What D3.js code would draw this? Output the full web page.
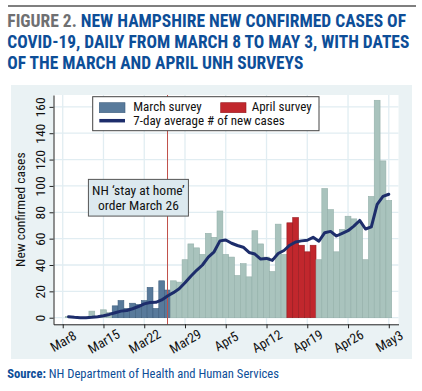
<!DOCTYPE html>
<html>
<head>
<meta charset="utf-8">
<script src="https://cdn.jsdelivr.net/npm/d3@7"></script>
<style>
  body { margin: 0; background: #fff; }
  svg { display: block; font-family: "Liberation Sans Narrow", "Arial Narrow", "Roboto Condensed", "DejaVu Sans Condensed", sans-serif; }
</style>
</head>
<body>
<div id="chart"></div>
<script>
// data
const firstDay = "2020-03-08";
const lastDay = "2020-05-03";

// new confirmed cases per day, Mar 8 .. May 3
const newCases = [
  0, 1, 0, 0, 0, 5, 0, 6, 4,              // Mar 8-16
  9, 13, 7, 11, 10, 13, 23, 7, 28, 21,     // Mar 17-26
  28, 27, 44, 56, 53,                      // Mar 27-31
  48, 64, 61, 81, 48, 46, 32, 41, 31, 66,  // Apr 1-10
  56, 46, 35, 71, 48, 72, 76, 55, 50, 55,  // Apr 11-20
  44, 98, 82, 50, 67, 77, 75, 72, 44, 92,  // Apr 21-30
  165, 119, 89                             // May 1-3
];

// 7-day average # of new cases (null where the line is not drawn)
const avg7 = [
  null, 0.8, 0.3, 0, 0, 0.3, 0.8, 1.5, 2.5,
  3.8, 5.0, 5.5, 6.8, 8.5, 10.5, 11.5, 11.7, 13.5, 16.5,
  19, 22, 26.5, 31.5, 36,
  40, 46, 50, 58.3, 59, 56.5, 54.8, 53.5, 49.5, 48.3,
  44.5, 45, 43.5, 48.7, 51, 55, 57.5, 58.3, 58.8, 61,
  58, 64.5, 65.5, 62, 64, 66, 69.5, 73.8, 67.3, 69,
  86, 92, 93.7
];

const marchSurvey = ["2020-03-17", "2020-03-26"];
const aprilSurvey = ["2020-04-16", "2020-04-20"];
const stayHomeDay = "2020-03-26";

const yTicks = [0, 20, 40, 60, 80, 100, 120, 140, 160];
const xTickDays = ["2020-03-08", "2020-03-15", "2020-03-22", "2020-03-29",
                   "2020-04-05", "2020-04-12", "2020-04-19", "2020-04-26", "2020-05-03"];

const titleLines = [
  "NEW HAMPSHIRE NEW CONFIRMED CASES OF",
  "COVID-19, DAILY FROM MARCH 8 TO MAY 3, WITH DATES",
  "OF THE MARCH AND APRIL UNH SURVEYS"
];

const parse = d3.timeParse("%Y-%m-%d");
const days = d3.timeDay.range(parse(firstDay), d3.timeDay.offset(parse(lastDay), 1));
const rows = days.map((d, i) => ({ date: d, cases: newCases[i], avg: avg7[i] }));

function group(d) {
  if (d >= parse(marchSurvey[0]) && d <= parse(marchSurvey[1])) return "march";
  if (d >= parse(aprilSurvey[0]) && d <= parse(aprilSurvey[1])) return "april";
  return "other";
}
const fills = { other: "#a9c3bd", march: "#587a9b", april: "#c1272d" };
const strokes = { other: "#94b0aa", march: "#3f5f7f", april: "#97191e" };

const W = 422, H = 391;
const plot = { left: 53.5, right: 398.5, top: 95, bottom: 324.3 };

const svg = d3.select("#chart").append("svg")
  .attr("width", W)
  .attr("height", H);

svg.append("rect").attr("width", W).attr("height", H).attr("fill", "#fff");

// top rule + title
svg.append("line")
  .attr("x1", 8).attr("x2", 416).attr("y1", 6).attr("y2", 6)
  .attr("stroke", "#555").attr("stroke-width", 1.5);

const titleWidths = [398.7, 402, 296];
titleLines.forEach((line, i) => {
  const t = svg.append("text")
    .attr("x", 7.3)
    .attr("y", 26.7 + i * 21.3)
    .attr("font-size", "17.5px")
    .attr("font-weight", "bold")
    .attr("fill", "#0d4e98")
    .attr("textLength", titleWidths[i])
    .attr("lengthAdjust", "spacingAndGlyphs");
  if (i === 0) t.append("tspan").attr("fill", "#6f7072").text("FIGURE 2. ");
  t.append("tspan").text(line);
});

// chart panel
svg.append("rect")
  .attr("x", 11).attr("y", 85).attr("width", 401).attr("height", 274)
  .attr("fill", "#eaf2f4");
svg.append("rect")
  .attr("x", plot.left).attr("y", plot.top)
  .attr("width", plot.right - plot.left).attr("height", plot.bottom - plot.top)
  .attr("fill", "#fff");

// scales
const x = d3.scaleTime()
  .domain([d3.timeHour.offset(parse(firstDay), -38), d3.timeHour.offset(parse(lastDay), 40)])
  .range([plot.left, plot.right]);
const y = d3.scaleLinear()
  .domain([-5, 169])
  .range([plot.bottom, plot.top]);
const barW = x(d3.timeDay.offset(parse(firstDay), 1)) - x(parse(firstDay));

// grid
svg.append("g").selectAll("line")
  .data(yTicks).enter().append("line")
  .attr("x1", plot.left).attr("x2", plot.right)
  .attr("y1", d => y(d)).attr("y2", d => y(d))
  .attr("stroke", "#e1edf2").attr("stroke-width", 1.3);
svg.append("g").selectAll("line")
  .data(xTickDays).enter().append("line")
  .attr("x1", d => x(parse(d))).attr("x2", d => x(parse(d)))
  .attr("y1", plot.top).attr("y2", plot.bottom)
  .attr("stroke", "#e1edf2").attr("stroke-width", 1.3);

// bars
svg.append("g").selectAll("rect")
  .data(rows.filter(d => d.cases > 0)).enter().append("rect")
  .attr("x", d => x(d.date) - barW / 2)
  .attr("width", barW)
  .attr("y", d => y(d.cases))
  .attr("height", d => y(0) - y(d.cases))
  .attr("fill", d => fills[group(d.date)])
  .attr("stroke", d => strokes[group(d.date)])
  .attr("stroke-width", 0.6);

// stay at home marker
svg.append("line")
  .attr("x1", x(parse(stayHomeDay))).attr("x2", x(parse(stayHomeDay)))
  .attr("y1", plot.top).attr("y2", plot.bottom)
  .attr("stroke", "#c0504a").attr("stroke-width", 1);

// 7-day average line
const line = d3.line()
  .defined(d => d.avg != null)
  .x(d => x(d.date))
  .y(d => y(d.avg))
  .curve(d3.curveLinear);
svg.append("path")
  .datum(rows)
  .attr("d", line)
  .attr("fill", "none")
  .attr("stroke", "#1d2d6b")
  .attr("stroke-width", 3)
  .attr("stroke-linejoin", "round")
  .attr("stroke-linecap", "round");

// annotation box
const noteX = x(d3.timeDay.offset(parse(stayHomeDay), -5));
const noteY = y(91);
svg.append("rect")
  .attr("x", noteX - 50).attr("y", noteY - 18.4)
  .attr("width", 100).attr("height", 36.7)
  .attr("fill", "#dce9ef").attr("stroke", "#555").attr("stroke-width", 1);
svg.append("text")
  .attr("x", noteX).attr("y", noteY - 2.5)
  .attr("text-anchor", "middle").attr("font-size", "13.5px").attr("fill", "#111")
  .text("NH \u2018stay at home\u2019");
svg.append("text")
  .attr("x", noteX).attr("y", noteY + 12.5)
  .attr("text-anchor", "middle").attr("font-size", "13.5px").attr("fill", "#111")
  .text("order March 26");

// axes
const yAxis = svg.append("g")
  .attr("transform", "translate(" + plot.left + ",0)")
  .call(d3.axisLeft(y).tickValues(yTicks).tickSize(4).tickSizeOuter(0));
yAxis.attr("font-family", null);
yAxis.select(".domain").attr("stroke", "#222");
yAxis.selectAll(".tick line").attr("stroke", "#222");
yAxis.selectAll("text")
  .attr("x", 0).attr("y", 0).attr("dy", "0.35em")
  .attr("transform", "translate(-13,0) rotate(-90)")
  .style("text-anchor", "middle")
  .style("font-size", "13.5px")
  .attr("fill", "#111");

const xAxis = svg.append("g")
  .attr("transform", "translate(0," + plot.bottom + ")")
  .call(d3.axisBottom(x).tickValues(xTickDays.map(parse)).tickFormat(d3.timeFormat("%b%-d"))
    .tickSize(4).tickSizeOuter(0));
xAxis.attr("font-family", null);
xAxis.select(".domain").attr("stroke", "#222");
xAxis.selectAll(".tick line").attr("stroke", "#222");
xAxis.selectAll("text")
  .attr("x", 0).attr("y", 0).attr("dy", "0.35em")
  .attr("transform", "translate(0,17) rotate(-30)")
  .style("text-anchor", "middle")
  .style("font-size", "13.5px")
  .attr("fill", "#111");

// y title
svg.append("text")
  .attr("transform", "translate(25," + ((plot.top + plot.bottom) / 2) + ") rotate(-90)")
  .attr("text-anchor", "middle")
  .attr("font-size", "13.5px")
  .attr("fill", "#111")
  .text("New confirmed cases");

// legend
const lg = svg.append("g");
lg.append("rect")
  .attr("x", 92.7).attr("y", 96.7).attr("width", 226.3).attr("height", 34)
  .attr("fill", "#fff").attr("stroke", "#444").attr("stroke-width", 1);
lg.append("rect")
  .attr("x", 99.3).attr("y", 102.7).attr("width", 25.7).attr("height", 10)
  .attr("fill", fills.march).attr("stroke", strokes.march).attr("stroke-width", 0.6);
lg.append("text").attr("x", 133.3).attr("y", 110.8)
  .attr("font-size", "13px").attr("fill", "#111").text("March survey");
lg.append("rect")
  .attr("x", 220.7).attr("y", 102.7).attr("width", 25.3).attr("height", 10)
  .attr("fill", fills.april).attr("stroke", strokes.april).attr("stroke-width", 0.6);
lg.append("text").attr("x", 251.7).attr("y", 110.8)
  .attr("font-size", "13px").attr("fill", "#111").text("April survey");
lg.append("line")
  .attr("x1", 99.3).attr("x2", 125).attr("y1", 120.7).attr("y2", 120.7)
  .attr("stroke", "#1d2d6b").attr("stroke-width", 3.5);
lg.append("text").attr("x", 133.3).attr("y", 125.3)
  .attr("font-size", "13px").attr("fill", "#111").text("7-day average # of new cases");

// source
const src = svg.append("text")
  .attr("x", 7.3).attr("y", 378)
  .attr("font-size", "12.5px")
  .attr("fill", "#0d4e98")
  .attr("textLength", 271.7)
  .attr("lengthAdjust", "spacingAndGlyphs");
src.append("tspan").attr("font-weight", "bold").text("Source:");
src.append("tspan").text(" NH Department of Health and Human Services");
</script>
</body>
</html>
